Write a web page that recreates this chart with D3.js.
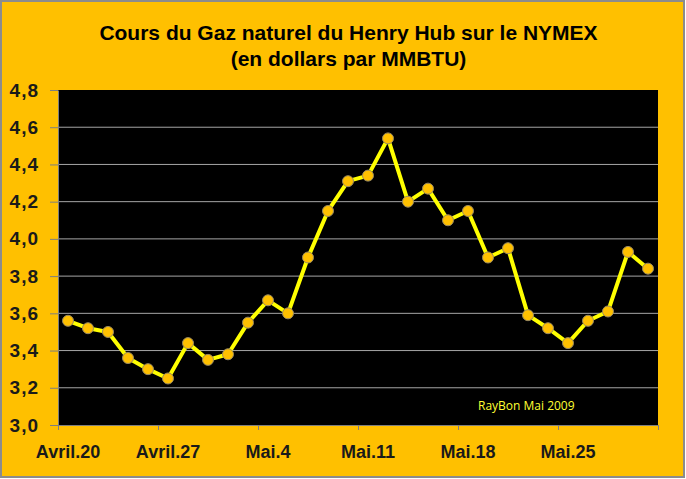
<!DOCTYPE html>
<html>
<head>
<meta charset="utf-8">
<script src="https://cdn.jsdelivr.net/npm/d3@7"></script>
<style>
  html, body { margin: 0; padding: 0; background: #ffffff; }
  svg { display: block; }
</style>
</head>
<body>
<svg id="chart" width="686" height="479"></svg>
<script>
// ---- data ----
const titleLines = ["Cours du Gaz naturel du Henry Hub sur le NYMEX", "(en dollars par MMBTU)"];
const days = [
  "20/04","21/04","22/04","23/04","24/04",
  "27/04","28/04","29/04","30/04","01/05",
  "04/05","05/05","06/05","07/05","08/05",
  "11/05","12/05","13/05","14/05","15/05",
  "18/05","19/05","20/05","21/05","22/05",
  "25/05","26/05","27/05","28/05","29/05"
];
const prices = [
  3.56, 3.52, 3.50, 3.36, 3.30,
  3.25, 3.44, 3.35, 3.38, 3.55,
  3.67, 3.60, 3.90, 4.15, 4.31,
  4.34, 4.54, 4.20, 4.27, 4.10,
  4.15, 3.90, 3.95, 3.59, 3.52,
  3.44, 3.56, 3.61, 3.93, 3.84
];
const weekLabels = ["Avril.20","Avril.27","Mai.4","Mai.11","Mai.18","Mai.25"];
const yTicks = [3.0, 3.2, 3.4, 3.6, 3.8, 4.0, 4.2, 4.4, 4.6, 4.8];
const credit = "RayBon Mai 2009";

// ---- layout ----
const W = 686, H = 479;
const plot = { left: 58, right: 658, top: 90, bottom: 425 };
const svg = d3.select("#chart");

// background frame
svg.append("rect").attr("x", 1).attr("y", 1).attr("width", 683).attr("height", 476)
  .attr("fill", "#ffc000").attr("stroke", "#8c8c8c").attr("stroke-width", 2);

// plot area
svg.append("rect").attr("x", plot.left).attr("y", plot.top)
  .attr("width", plot.right - plot.left).attr("height", plot.bottom - plot.top)
  .attr("fill", "#000000");

// scales
const x = d3.scaleLinear().domain([0, days.length]).range([plot.left, plot.right]);
const y = d3.scaleLinear().domain([3.0, 4.8]).range([plot.bottom, plot.top]);
const fmt = v => d3.format(".1f")(v).replace(".", ",");

// gridlines
svg.append("g").selectAll("line").data(yTicks.slice(1, -1)).join("line")
  .attr("x1", plot.left).attr("x2", plot.right)
  .attr("y1", d => y(d)).attr("y2", d => y(d))
  .attr("stroke", "#a6a6a6").attr("stroke-width", 1);

// y axis
const yAxis = svg.append("g").attr("transform", `translate(${plot.left},0)`)
  .call(d3.axisLeft(y).tickValues(yTicks).tickFormat(fmt).tickSize(8).tickPadding(11).tickSizeOuter(0));
yAxis.select(".domain").attr("stroke", "#7f7f7f");
yAxis.selectAll(".tick line").attr("stroke", "#7f7f7f");
yAxis.selectAll("text")
  .attr("font-family", "'Liberation Sans', Arial, sans-serif")
  .attr("font-weight", "bold").attr("font-size", "19px")
  .attr("letter-spacing", "1px")
  .attr("fill", "#1a1a1a");

// x axis (ticks at week boundaries)
const xAxis = svg.append("g").attr("transform", `translate(0,${plot.bottom})`)
  .call(d3.axisBottom(x).tickValues(d3.range(0, days.length + 1, 5)).tickFormat("").tickSize(5).tickSizeOuter(0));
xAxis.select(".domain").attr("stroke", "#7f7f7f");
xAxis.selectAll(".tick line").attr("stroke", "#7f7f7f");

// x labels centred on the first trading day of each week
svg.append("g").selectAll("text").data(weekLabels).join("text")
  .attr("x", (d, i) => x(i * 5 + 0.5))
  .attr("y", 458)
  .attr("text-anchor", "middle")
  .attr("font-family", "'Liberation Sans', Arial, sans-serif")
  .attr("font-weight", "bold").attr("font-size", "18px")
  .attr("fill", "#1a1a1a")
  .text(d => d);

// line
const line = d3.line().x((d, i) => x(i + 0.5)).y(d => y(d));
svg.append("path").datum(prices)
  .attr("d", line).attr("fill", "none")
  .attr("stroke", "#ffff00").attr("stroke-width", 4).attr("stroke-linejoin", "round");

// markers
svg.append("g").selectAll("circle").data(prices).join("circle")
  .attr("cx", (d, i) => x(i + 0.5)).attr("cy", d => y(d)).attr("r", 5.5)
  .attr("fill", "#ffc000").attr("stroke", "#9a8a60").attr("stroke-width", 1);

// title
svg.append("g").selectAll("text").data(titleLines).join("text")
  .attr("x", 348.5).attr("y", (d, i) => 40 + i * 26)
  .attr("text-anchor", "middle")
  .attr("font-family", "'Liberation Sans', Arial, sans-serif")
  .attr("font-weight", "bold").attr("font-size", "21px")
  .attr("fill", "#000000")
  .text(d => d);

// credit
svg.append("text").attr("x", 478).attr("y", 410)
  .attr("font-family", "'Open Sans', 'DejaVu Sans', sans-serif")
  .attr("font-size", "12px").attr("fill", "#ffff33")
  .text(credit);
</script>
</body>
</html>
